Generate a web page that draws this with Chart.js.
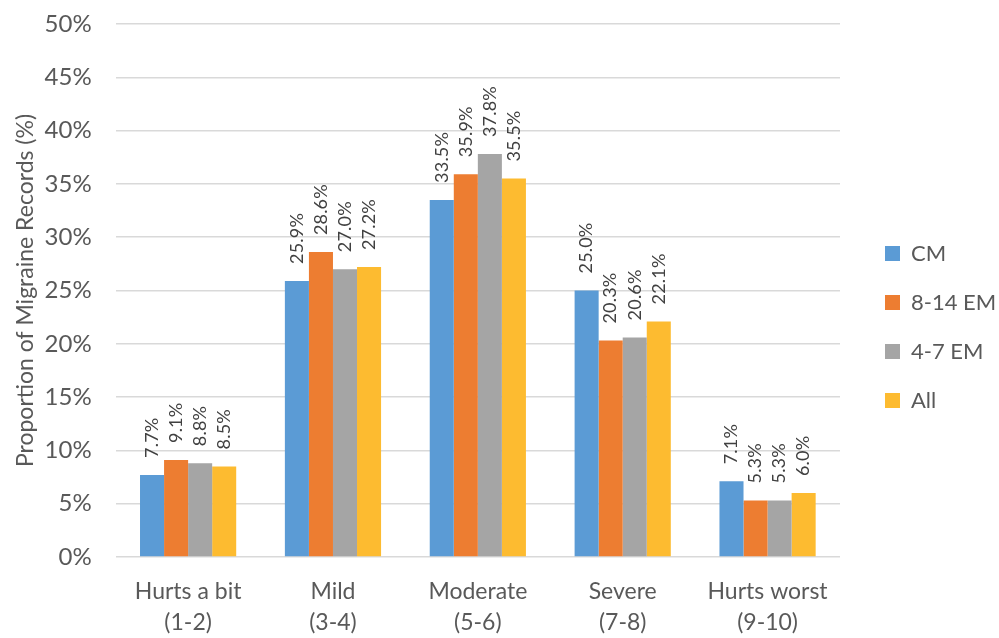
<!DOCTYPE html>
<html>
<head>
<meta charset="utf-8">
<script src="https://cdn.jsdelivr.net/npm/chart.js@4"></script>
<style>
  html, body { margin: 0; padding: 0; background: #fff; }
  #wrap { width: 999px; height: 638px; }
</style>
</head>
<body>
<div id="wrap"><canvas id="painCanvas"></canvas></div>
<script>
var categories = [
    ['Hurts a bit', '(1-2)'],
    ['Mild', '(3-4)'],
    ['Moderate', '(5-6)'],
    ['Severe', '(7-8)'],
    ['Hurts worst', '(9-10)']
];
var cmValues = [7.7, 25.9, 33.5, 25.0, 7.1];
var em814Values = [9.1, 28.6, 35.9, 20.3, 5.3];
var em47Values = [8.8, 27.0, 37.8, 20.6, 5.3];
var allValues = [8.5, 27.2, 35.5, 22.1, 6.0];
var yTicks = [0, 5, 10, 15, 20, 25, 30, 35, 40, 45, 50];

var fontName = 'Lato, "Open Sans", sans-serif';
var textColor = '#595959';

// rotated value labels above each bar
var barLabels = {
    id: 'barLabels',
    afterDatasetsDraw: function(chart) {
        var ctx = chart.ctx;
        ctx.save();
        ctx.font = '18px ' + fontName;
        ctx.letterSpacing = '0.2px';
        ctx.fillStyle = '#404040';
        ctx.textAlign = 'left';
        ctx.textBaseline = 'middle';
        chart.data.datasets.forEach(function(ds, i) {
            var meta = chart.getDatasetMeta(i);
            meta.data.forEach(function(bar, j) {
                ctx.save();
                ctx.translate(bar.x, bar.y - 17);
                ctx.rotate(-Math.PI / 2);
                ctx.fillText(ds.data[j].toFixed(1) + '%', 0, 0);
                ctx.restore();
            });
        });
        ctx.restore();
    }
};

function makeSet(label, values, color) {
    return {
        label: label,
        data: values,
        backgroundColor: color,
        borderWidth: 0,
        barPercentage: 1.0,
        categoryPercentage: 0.664
    };
}

var ctx = document.getElementById('painCanvas');
var myChart = new Chart(ctx, {
    type: 'bar',
    data: {
        labels: categories,
        datasets: [
            makeSet('CM', cmValues, '#5b9bd5'),
            makeSet('8-14 EM', em814Values, '#ed7d31'),
            makeSet('4-7 EM', em47Values, '#a5a5a5'),
            makeSet('All', allValues, '#fdbb30')
        ]
    },
    options: {
        responsive: true,
        maintainAspectRatio: false,
        animation: false,
        layout: { padding: { top: 4, right: 0, left: 8, bottom: 0 } },
        plugins: {
            legend: {
                position: 'right',
                maxWidth: 141,
                title: { display: true, text: '', padding: 0, font: { size: 10 } },
                labels: {
                    boxWidth: 15,
                    boxHeight: 15,
                    padding: 27,
                    color: textColor,
                    font: { family: fontName, size: 22 }
                }
            },
            tooltip: { enabled: false }
        },
        scales: {
            x: {
                grid: { display: false, drawTicks: false },
                border: { display: false },
                ticks: {
                    color: textColor,
                    padding: 19,
                    font: { family: fontName, size: 23, lineHeight: 1.35 }
                },
                afterFit: function(scale) {
                    scale.paddingLeft = 0;
                    scale.paddingRight = 0;
                    scale.height = 81;
                }
            },
            y: {
                min: 0,
                max: 50,
                afterBuildTicks: function(axis) {
                    axis.ticks = yTicks.map(function(v) { return { value: v }; });
                },
                afterFit: function(scale) {
                    scale.width = scale.width - 27;
                    scale.paddingTop = 24;
                    scale.paddingBottom = 0;
                },
                grid: { color: '#d9d9d9', drawTicks: false, lineWidth: 1.5 },
                border: { display: false },
                ticks: {
                    color: textColor,
                    padding: 24,
                    font: { family: fontName, size: 24 },
                    callback: function(v) { return v + '%'; }
                },
                title: {
                    display: true,
                    text: 'Proportion of Migraine Records (%)',
                    color: textColor,
                    padding: { top: 4, bottom: 8 },
                    font: { family: fontName, size: 23 }
                }
            },
            // empty spacer between plot and legend
            gap: {
                type: 'linear',
                position: 'right',
                display: true,
                grid: { display: false },
                border: { display: false },
                ticks: { display: false },
                afterFit: function(scale) {
                    scale.width = 18;
                    scale.paddingTop = 0;
                    scale.paddingBottom = 0;
                }
            }
        }
    },
    plugins: [barLabels]
});
</script>
</body>
</html>
